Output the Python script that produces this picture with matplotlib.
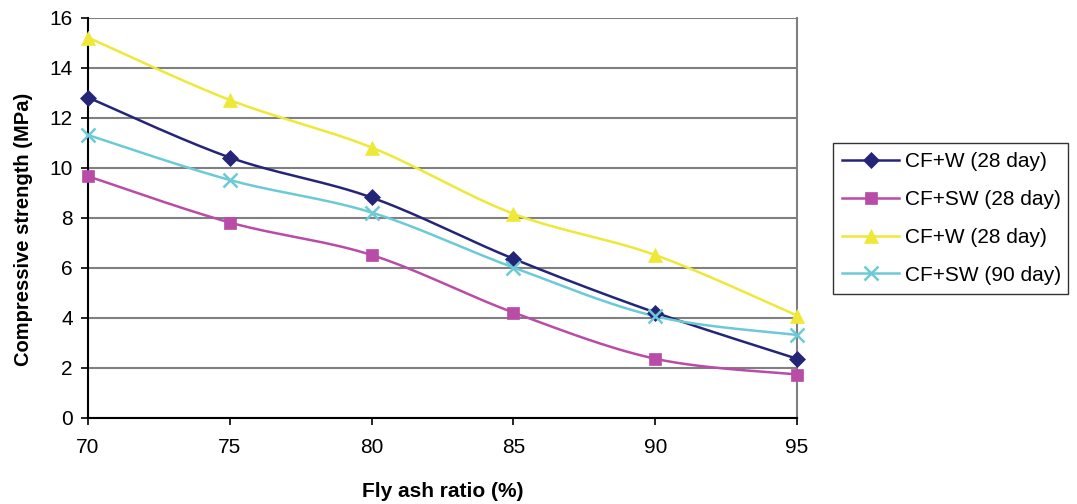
import numpy as np
import matplotlib
matplotlib.use("Agg")
import matplotlib.pyplot as plt

plt.rcParams['font.family'] = ['Liberation Sans', 'DejaVu Sans']

fly_ash = [70, 75, 80, 85, 90, 95]
cfw_28 = [12.8, 10.4, 8.8, 6.35, 4.2, 2.35]
cfsw_28 = [9.65, 7.8, 6.5, 4.2, 2.35, 1.72]
cfw_28b = [15.2, 12.7, 10.8, 8.15, 6.5, 4.08]
cfsw_90 = [11.3, 9.5, 8.2, 6.0, 4.05, 3.3]

labels = ["CF+W (28 day)", "CF+SW (28 day)", "CF+W (28 day)", "CF+SW (90 day)"]
colors = ["#252578", "#B84CA6", "#EEE838", "#6CCAD6"]
markers = ["D", "s", "^", "x"]
msizes = [8, 8, 10, 10]


def smooth(x, y, n=30):
    """Catmull-Rom style cubic Bezier through the points."""
    x = np.asarray(x, float)
    y = np.asarray(y, float)
    px = np.concatenate([[x[0]], x, [x[-1]]])
    py = np.concatenate([[y[0]], y, [y[-1]]])
    xs, ys = [], []
    t = np.linspace(0, 1, n)
    for i in range(1, len(px) - 2):
        p0 = np.array([px[i], py[i]])
        p3 = np.array([px[i + 1], py[i + 1]])
        p1 = p0 + (np.array([px[i + 1], py[i + 1]]) - np.array([px[i - 1], py[i - 1]])) / 6
        p2 = p3 - (np.array([px[i + 2], py[i + 2]]) - np.array([px[i], py[i]])) / 6
        b = ((1 - t) ** 3)[:, None] * p0 + (3 * (1 - t) ** 2 * t)[:, None] * p1 \
            + (3 * (1 - t) * t ** 2)[:, None] * p2 + (t ** 3)[:, None] * p3
        xs.extend(b[:, 0])
        ys.extend(b[:, 1])
    return np.array(xs), np.array(ys)


fig = plt.figure(figsize=(10.77, 5.04), dpi=100)
ax = fig.add_axes([88 / 1077, 1 - 417.5 / 504, (797 - 88) / 1077, 400 / 504])

handles = []
for ys, lab, c, m, ms in zip([cfw_28, cfsw_28, cfw_28b, cfsw_90], labels, colors, markers, msizes):
    sx, sy = smooth(fly_ash, ys)
    ax.plot(sx, sy, color=c, lw=1.8, zorder=3, clip_on=False)
    mew = 1.8 if m == "x" else 0.5
    ax.plot(fly_ash, ys, linestyle="none", marker=m, color=c, ms=ms, mew=mew,
            mec=c, zorder=4, clip_on=False)
    h, = ax.plot([], [], color=c, lw=1.8, marker=m, ms=ms, mew=mew, mec=c)
    handles.append(h)

ax.set_xlim(70, 95)
ax.set_ylim(0, 16)
ax.set_xticks(fly_ash)
ax.set_yticks(range(0, 17, 2))
ax.yaxis.grid(True, color="#808080", lw=1.5)
ax.set_axisbelow(True)
ax.spines["top"].set_visible(False)
ax.spines["right"].set_color("#808080")
ax.spines["right"].set_linewidth(1.5)
ax.spines["left"].set_color("black")
ax.spines["bottom"].set_color("black")
ax.spines["left"].set_linewidth(1.5)
ax.spines["bottom"].set_linewidth(1.5)
ax.tick_params(axis="both", labelsize=15, length=5, width=1.2, color="black")
ax.tick_params(axis="y", pad=6)
ax.tick_params(axis="x", pad=10)

ax.set_xlabel("Fly ash ratio (%)", fontsize=15, fontweight="bold", labelpad=18)
ax.set_ylabel("Compressive strength (MPa)", fontsize=14.5, fontweight="bold")
ax.yaxis.set_label_coords(-0.077, 0.471)

leg = fig.legend(handles, labels, loc="upper left",
                 bbox_to_anchor=(833 / 1077, 1 - 293 / 504, 235 / 1077, 150 / 504),
                 mode="expand", fontsize=15, frameon=True, fancybox=False,
                 edgecolor="black", handlelength=2.7, labelspacing=0.9,
                 borderpad=0.45, handletextpad=0.3, borderaxespad=0)
leg.get_frame().set_linewidth(1.0)

fig.savefig("out.png", dpi=100)
